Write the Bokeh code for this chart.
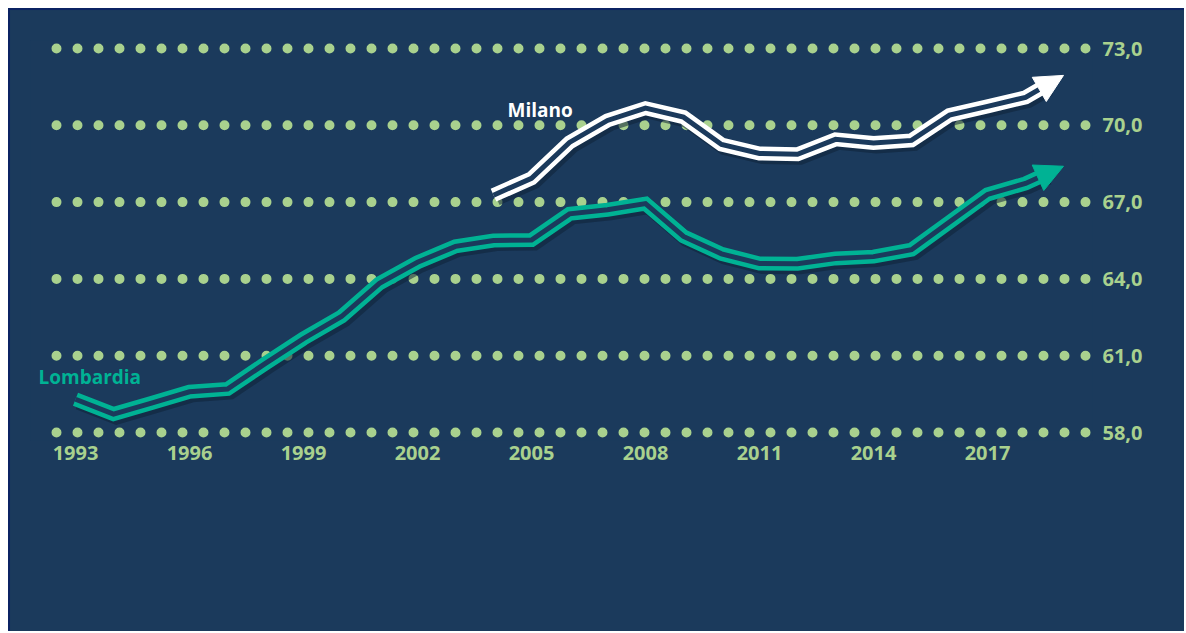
import math
from bokeh.plotting import figure
from bokeh.models import FixedTicker, Arrow, NormalHead, Label
from bokeh.embed import file_html
from bokeh.resources import INLINE

# ---- data ----
years = list(range(1993, 2020))
lombardia = [59.30, 58.72, 59.15, 59.59, 59.70, 60.70, 61.67, 62.53, 63.83, 64.65,
             65.27, 65.50, 65.52, 66.54, 66.70, 66.94, 65.66, 64.98, 64.60, 64.59,
             64.80, 64.87, 65.14, 66.22, 67.30, 67.73, 68.40]
milano_years = list(range(2004, 2020))
milano = [67.27, 67.93, 69.33, 70.19, 70.67, 70.32, 69.25, 68.90, 68.87, 69.45,
          69.31, 69.41, 70.40, 70.74, 71.09, 71.95]
x_ticks = [1993, 1996, 1999, 2002, 2005, 2008, 2011, 2014, 2017]
y_ticks = [58, 61, 64, 67, 70, 73]
y_tick_labels = ["58,0", "61,0", "64,0", "67,0", "70,0", "73,0"]

# ---- style ----
BG = "#1b3a5c"
NAVY = "#0b2363"
GREEN = "#a9d18e"
TEAL = "#00b294"
WHITE = "#ffffff"
SHADOW = "#0e2339"
FONT = "Open Sans"

OFF = 10                                 # page offset of the canvas (margin + border)
W, H = 1176, 623
# frame box in page px
PL, PR, PT, PB = 30, 1092, 40, 440
FL, FR, FT, FB = PL - OFF, PR - OFF, PT - OFF, PB - OFF
PXX = 38.0                               # px per year
PXY = 25.6                               # px per unit
x0 = 1993 - (75 - PL) / PXX
x1 = x0 + (PR - PL) / PXX
y1 = 73 + (48 - PT) / PXY
y0 = y1 - (PB - PT) / PXY


def xd(px):
    return x0 + (px - PL) / PXX


def yd(py):
    return y1 - (py - PT) / PXY


p = figure(width=W, height=H, x_range=(x0, x1), y_range=(y0, y1),
           output_backend="svg", toolbar_location=None, y_axis_location="right",
           background_fill_color=BG, border_fill_color=BG, outline_line_color=None,
           min_border_left=FL, min_border_right=W - FR, min_border_top=FT,
           min_border_bottom=H - FB,
           styles={"margin-left": "8px", "margin-top": "8px",
                   "background-color": BG,
                   "border-left": f"2px solid {NAVY}", "border-top": f"2px solid {NAVY}"})
p.outline_line_color = None
p.outline_line_alpha = 0
p.xgrid.grid_line_color = None
p.ygrid.grid_line_color = None

# dotted horizontal guide lines at the y ticks
p.segment(x0=[xd(56)] * len(y_ticks), y0=y_ticks, x1=[x1] * len(y_ticks), y1=y_ticks,
          line_color=GREEN, line_width=10, line_cap="round", line_dash="0 21")

# axes
p.xaxis.ticker = FixedTicker(ticks=x_ticks)
p.yaxis.ticker = FixedTicker(ticks=y_ticks)
p.yaxis.major_label_overrides = {t: s for t, s in zip(y_ticks, y_tick_labels)}
for ax in (p.xaxis[0], p.yaxis[0]):
    ax.axis_line_color = None
    ax.major_tick_line_color = None
    ax.minor_tick_line_color = None
    ax.major_tick_out = 0
    ax.major_tick_in = 0
    ax.major_label_text_color = GREEN
    ax.major_label_text_font = FONT
    ax.major_label_text_font_style = "bold"
    ax.major_label_text_font_size = "20px"
p.xaxis.major_label_standoff = 5
p.yaxis.major_label_standoff = 10


def body_end(xa, ya, xb, yb, back_px=20):
    dx = (xb - xa) * PXX
    dy = (yb - ya) * PXY
    L = math.hypot(dx, dy)
    t = 1 - back_px / L
    return xa + t * (xb - xa), ya + t * (yb - ya)


def double_line(xs, ys, color):
    bx, by = body_end(xs[-2], ys[-2], xs[-1], ys[-1])
    lx = list(xs[:-1]) + [bx]
    ly = list(ys[:-1]) + [by]
    # soft shadow
    p.line([x + 3 / PXX for x in lx], [y - 3 / PXY for y in ly], line_color=SHADOW,
           line_alpha=0.55, line_width=15, line_join="miter")
    p.line(lx, ly, line_color=color, line_width=14, line_join="miter")
    p.line(lx, ly, line_color=BG, line_width=5, line_join="miter")
    p.add_layout(Arrow(x_start=xs[-2], y_start=ys[-2], x_end=xs[-1], y_end=ys[-1],
                       line_alpha=0,
                       end=NormalHead(size=28, fill_color=color, line_color=color,
                                      line_width=1)))


double_line(years, lombardia, TEAL)
double_line(milano_years, milano, WHITE)

p.add_layout(Label(x=xd(38), y=yd(376), text="Lombardia",
                   text_color=TEAL, text_font=FONT, text_font_style="bold",
                   text_font_size="19px", text_baseline="middle", text_align="left"))
p.add_layout(Label(x=xd(507), y=yd(109), text="Milano",
                   text_color=WHITE, text_font=FONT, text_font_style="bold",
                   text_font_size="19px", text_baseline="middle", text_align="left"))

open("out.html", "w").write(file_html(p, INLINE))
